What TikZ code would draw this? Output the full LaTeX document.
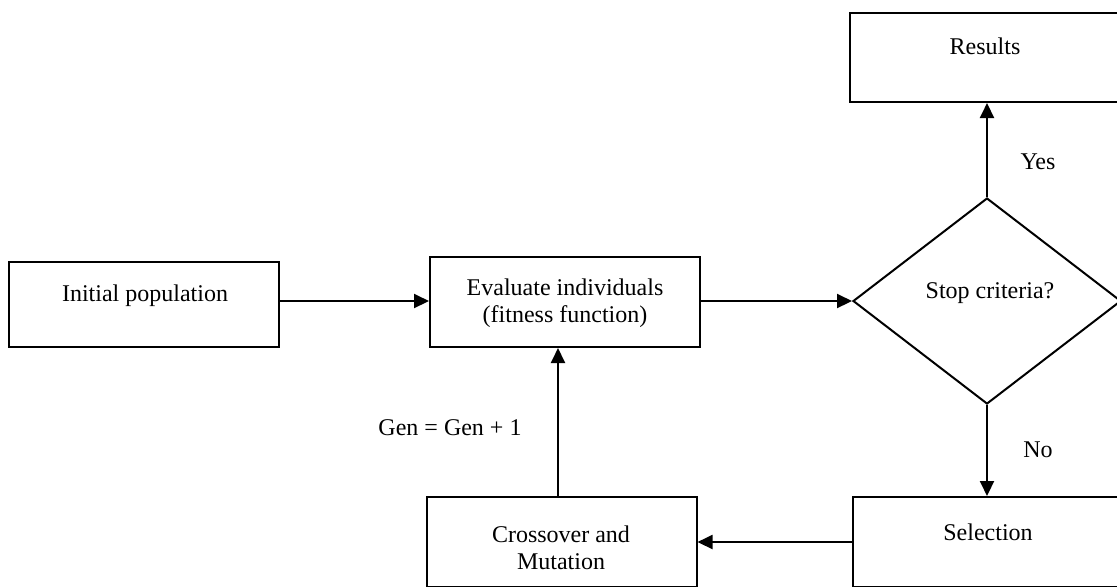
\documentclass[tikz,border=0pt]{standalone}
\usepackage{fontspec}
\setmainfont{Liberation Serif}
\usetikzlibrary{arrows.meta,shapes.geometric}
\begin{document}
\begin{tikzpicture}[x=0.5pt,y=-0.5pt,
  every node/.style={font=\fontsize{12}{13.5}\selectfont},
  boxnode/.style={draw=black, line width=1pt, rectangle, minimum width=135pt, inner sep=0pt},
  txt/.style={inner sep=0pt, align=center},
  arr/.style={-{Triangle[length=7.5pt,width=7pt]}, line width=1pt}]
\clip (0,0) rectangle (1117,586);
\fill[white] (0,0) rectangle (1117,586);
% boxes
\node[boxnode, minimum height=42.5pt] (init) at (144,304.5) {};
\node[txt] (initT) at (145,296) {Initial population};
\node[boxnode, minimum height=45pt] (eval) at (565,302) {};
\node[txt] (evalT) at (565,303.5) {Evaluate individuals\\(fitness function)};
\node[boxnode, minimum height=44.5pt] (res) at (985,57.5) {};
\node[txt] (resT) at (985,46) {Results};
\node[boxnode, minimum height=45pt] (sel) at (988,542) {};
\node[txt] (selT) at (988,532) {Selection};
\node[boxnode, minimum height=45pt] (cross) at (561.5,542) {};
\node[txt] (crossT) at (561,547.5) {Crossover and\\Mutation};
\node[draw=black, line width=1pt, diamond, minimum width=134pt, minimum height=103pt, inner sep=0pt] (dia) at (987,301) {};
\node[txt] (diaT) at (990,293) {Stop criteria?};
% connectors
\draw[arr] (init.east |- dia.west) -- (eval.west |- dia.west);
\draw[arr] (eval.east |- dia.west) -- (dia.west);
\draw[arr] (dia.north) -- (dia.north |- res.south);
\draw[arr] (dia.south) -- (dia.south |- sel.north);
\draw[arr] (sel.west) -- (cross.east);
\coordinate (up) at (558,0);
\draw[arr] (up |- cross.north) -- (up |- eval.south);
% labels
\node[txt] (yes) at (1038,162) {Yes};
\node[txt] (no) at (1038,450) {No};
\node[txt] (gen) at (450,428) {Gen = Gen + 1};
\end{tikzpicture}
\end{document}
